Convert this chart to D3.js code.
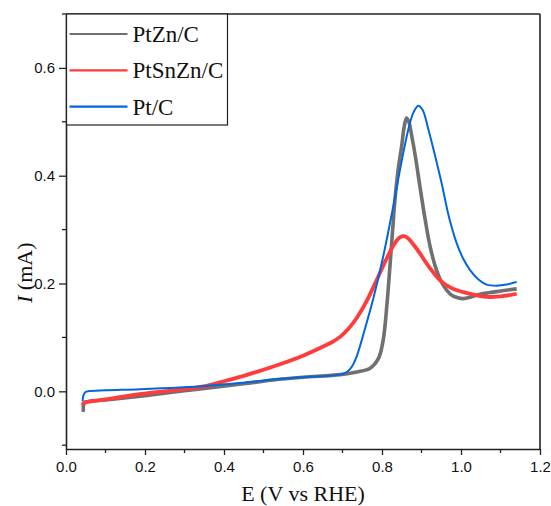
<!DOCTYPE html>
<html>
<head>
<meta charset="utf-8">
<script src="https://cdn.jsdelivr.net/npm/d3@7.9.0/dist/d3.min.js"></script>
<style>
  body { margin: 0; background: #fff; }
  svg { display: block; }
</style>
</head>
<body>
<svg id="chart" width="551" height="506"></svg>
<script>
// forward scans, [E (V vs RHE), I (mA)]
const ptZnC = [
  [0.044,-0.038],[0.045,-0.024],[0.05,-0.020],[0.1,-0.016],[0.2,-0.008],[0.3,0.001],
  [0.356,0.006],[0.45,0.014],[0.525,0.021],[0.6,0.026],[0.694,0.031],[0.736,0.036],
  [0.770,0.043],[0.791,0.061],[0.803,0.095],[0.812,0.157],[0.820,0.231],[0.827,0.300],
  [0.833,0.357],[0.841,0.412],[0.850,0.456],[0.856,0.490],[0.862,0.507],[0.868,0.500],
  [0.875,0.475],[0.884,0.438],[0.896,0.380],[0.909,0.320],[0.922,0.268],[0.938,0.225],
  [0.955,0.197],[0.972,0.181],[0.99,0.174],[1.006,0.172],[1.025,0.175],[1.048,0.180],
  [1.09,0.185],[1.141,0.19]
];
const ptSnZnC = [
  [0.043,-0.026],[0.045,-0.021],[0.06,-0.019],[0.1,-0.015],[0.187,-0.005],[0.3,0.004],
  [0.356,0.010],[0.407,0.020],[0.46,0.031],[0.525,0.046],[0.6,0.066],[0.651,0.083],
  [0.675,0.092],[0.694,0.101],[0.715,0.116],[0.736,0.136],[0.758,0.163],[0.778,0.193],
  [0.795,0.220],[0.811,0.245],[0.83,0.272],[0.846,0.286],[0.856,0.288],[0.866,0.284],
  [0.880,0.272],[0.896,0.256],[0.92,0.230],[0.947,0.206],[0.975,0.192],[1.006,0.184],
  [1.04,0.178],[1.073,0.175],[1.11,0.177],[1.141,0.181]
];
const ptC = [
  [0.042,-0.018],[0.044,-0.008],[0.048,-0.002],[0.055,0.0],[0.1,0.002],[0.187,0.004],
  [0.356,0.010],[0.45,0.016],[0.525,0.022],[0.6,0.026],[0.694,0.031],[0.712,0.036],
  [0.724,0.046],[0.735,0.063],[0.746,0.088],[0.760,0.124],[0.778,0.172],[0.803,0.250],
  [0.829,0.345],[0.850,0.428],[0.868,0.490],[0.880,0.518],[0.892,0.530],[0.903,0.522],
  [0.917,0.487],[0.934,0.438],[0.951,0.386],[0.970,0.322],[0.989,0.275],[1.005,0.247],
  [1.023,0.225],[1.045,0.207],[1.065,0.198],[1.09,0.196],[1.115,0.198],[1.141,0.203]
];

const seriesNames = ["PtZn/C", "PtSnZn/C", "Pt/C"];
const seriesColors = ["#707070", "#ff3b3b", "#0066dd"];
const seriesData = [ptZnC, ptSnZnC, ptC];

const xTicks = [0.0, 0.2, 0.4, 0.6, 0.8, 1.0, 1.2];
const yTicks = [0.0, 0.2, 0.4, 0.6];

const svg = d3.select("#chart");
const margin = { top: 14, right: 11, bottom: 57, left: 66 };
const width = +svg.attr("width") - margin.left - margin.right;
const height = +svg.attr("height") - margin.top - margin.bottom;

const g = svg.append("g")
  .attr("transform", `translate(${margin.left},${margin.top})`);

const x = d3.scaleLinear().domain([0, 1.2]).range([0, width]);
const y = d3.scaleLinear().domain([-0.107, 0.7]).range([height, 0]);

g.append("clipPath").attr("id", "clip")
  .append("rect").attr("width", width).attr("height", height);

// curves
const line = d3.line()
  .x(d => x(d[0]))
  .y(d => y(d[1]))
  .curve(d3.curveCatmullRom.alpha(0.5));

const widths = [3.6, 3.8, 2];
seriesData.forEach((data, i) => {
  g.append("path")
    .datum(data)
    .attr("clip-path", "url(#clip)")
    .attr("fill", "none")
    .attr("stroke", seriesColors[i])
    .attr("stroke-width", widths[i])
    .attr("stroke-linejoin", "round")
    .attr("d", line);
});

// axes
const axisColor = "#222";
const minorX = d3.range(0, 1.21, 0.1).map(v => +v.toFixed(1));
const minorY = d3.range(-0.1, 0.71, 0.1).map(v => +v.toFixed(1));

const xAxis = g.append("g").attr("transform", `translate(0,${height})`);
xAxis.selectAll("line.minor")
  .data(minorX.filter(v => !xTicks.includes(v)))
  .join("line")
  .attr("x1", d => x(d)).attr("x2", d => x(d))
  .attr("y1", 0).attr("y2", 4)
  .attr("stroke", axisColor).attr("stroke-width", 1.3);
xAxis.call(d3.axisBottom(x).tickValues(xTicks).tickFormat(d3.format(".1f")).tickSize(6).tickSizeOuter(0));

const yAxis = g.append("g");
yAxis.selectAll("line.minor")
  .data(minorY.filter(v => !yTicks.includes(v)))
  .join("line")
  .attr("x1", 0).attr("x2", -4)
  .attr("y1", d => y(d)).attr("y2", d => y(d))
  .attr("stroke", axisColor).attr("stroke-width", 1.3);
yAxis.call(d3.axisLeft(y).tickValues(yTicks).tickFormat(d3.format(".1f")).tickSize(7).tickSizeOuter(0));

[xAxis, yAxis].forEach(a => {
  a.select(".domain").attr("stroke", axisColor).attr("stroke-width", 1.6);
  a.selectAll(".tick line").attr("stroke", axisColor).attr("stroke-width", 1.3);
  a.selectAll(".tick text")
    .attr("font-family", "'Liberation Sans', Arial, sans-serif")
    .attr("font-size", 15)
    .attr("fill", "#111");
});
xAxis.selectAll(".tick text").attr("dy", "0.95em");
yAxis.selectAll(".tick text").attr("x", -11);

// frame top/right
g.append("line").attr("x1", 0).attr("x2", width).attr("y1", 0).attr("y2", 0)
  .attr("stroke", axisColor).attr("stroke-width", 1.6);
g.append("line").attr("x1", width).attr("x2", width).attr("y1", 0).attr("y2", height)
  .attr("stroke", axisColor).attr("stroke-width", 1.6);

// axis titles
g.append("text")
  .attr("x", width / 2)
  .attr("y", height + 52)
  .attr("text-anchor", "middle")
  .attr("font-family", "'Liberation Serif', 'Times New Roman', serif")
  .attr("font-size", 22)
  .attr("fill", "#111")
  .text("E (V vs RHE)");

const yTitle = g.append("text")
  .attr("transform", `translate(-34,${y(0.22)}) rotate(-90)`)
  .attr("text-anchor", "middle")
  .attr("font-family", "'Liberation Serif', 'Times New Roman', serif")
  .attr("font-size", 22)
  .attr("fill", "#111");
yTitle.append("tspan").attr("font-style", "italic").text("I");
yTitle.append("tspan").text(" (mA)");

// legend
const legend = g.append("g").attr("transform", "translate(0.5,0)");
legend.append("rect")
  .attr("x", 0).attr("y", 0)
  .attr("width", 161).attr("height", 111)
  .attr("fill", "#fff")
  .attr("stroke", axisColor)
  .attr("stroke-width", 1.2);
seriesNames.forEach((name, i) => {
  const ly = 20 + i * 36.3;
  legend.append("line")
    .attr("x1", 3).attr("x2", 61)
    .attr("y1", ly).attr("y2", ly)
    .attr("stroke", seriesColors[i])
    .attr("stroke-width", 2.2);
  legend.append("text")
    .attr("x", 66)
    .attr("y", ly + 8)
    .attr("font-family", "'Liberation Serif', 'Times New Roman', serif")
    .attr("font-size", 23)
    .attr("fill", "#111")
    .text(name);
});
</script>
</body>
</html>
